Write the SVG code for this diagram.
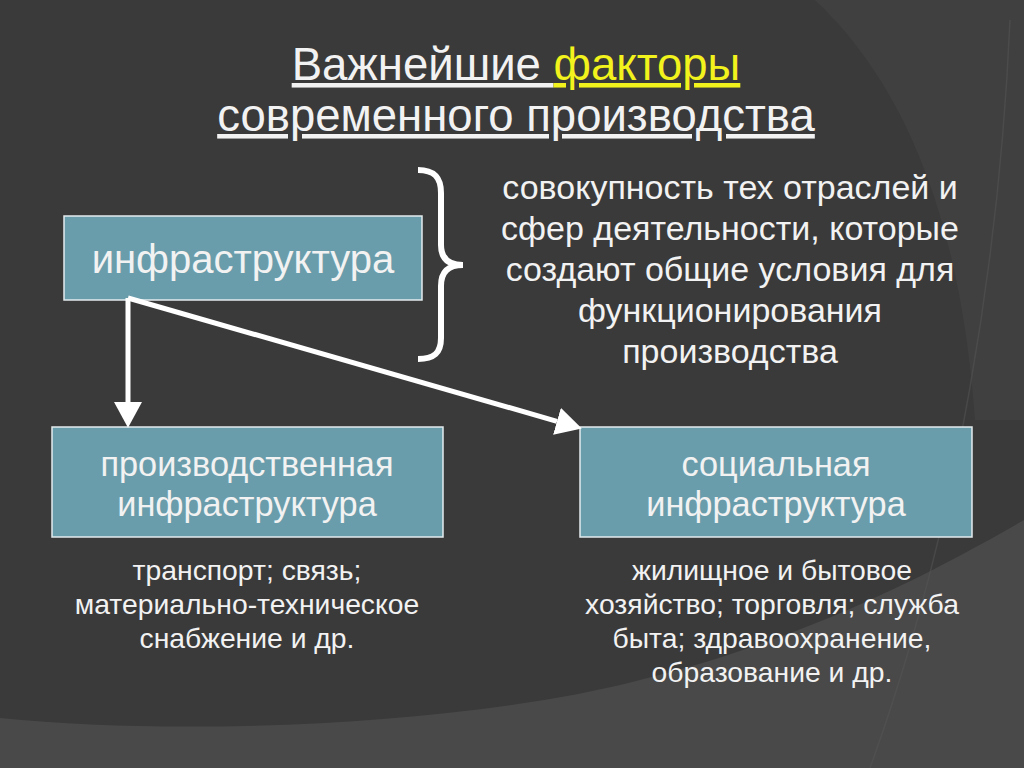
<svg xmlns="http://www.w3.org/2000/svg" width="1024" height="768" viewBox="0 0 1024 768">
<style>
text { font-family: "Liberation Sans", Arial, sans-serif; fill: #f2f2f2; text-anchor: middle; }
.title { font-size: 45.5px; }
.ul { text-decoration: underline; }
.yel { fill: #f2f21c; }
.desc { font-size: 34px; }
.boxt { font-size: 34.3px; }
.note { font-size: 28.3px; }
.box { fill: #6a9dab; stroke: #e4ecee; stroke-width: 1.5; }
.conn { stroke: #ffffff; stroke-width: 5; fill: none; }
</style>
<defs>
<marker id="head" markerUnits="userSpaceOnUse" markerWidth="26" markerHeight="28" viewBox="0 0 24 26" refX="0" refY="13" orient="auto">
<path d="M0,0 L24,13 L0,26 Z" fill="#ffffff"/>
</marker>
</defs>
<g id="background">
<rect x="0" y="0" width="1024" height="768" fill="#3a3a3a"/>
<path d="M815,0 C900,80 960,210 975,420 L1024,420 L1024,0 Z" fill="#404040"/>
<path d="M0,718 C200,738 480,722 640,680 C800,640 920,580 1024,520 L1024,768 L0,768 Z" fill="#494949"/>
<path d="M1010,20 C1000,250 960,520 870,768" fill="none" stroke="#555555" stroke-width="1.5" opacity="0.5"/>
</g>
<g id="title">
<text class="title" x="516" y="80"><tspan class="ul">Важнейшие </tspan><tspan class="ul yel">факторы</tspan></text>
<text class="title ul" x="516" y="131">современного производства</text>
</g>
<g id="node-infra">
<rect class="box" x="64" y="216" width="358" height="84"/>
<text class="boxt" x="243" y="273" style="font-size:40px">инфраструктура</text>
</g>
<g id="brace">
<path d="M418,170 C434,170 441,177 441,193 L441,245 C441,258 448,265 463,265 C448,265 441,272 441,286 L441,338 C441,353 434,359 418,359" fill="none" stroke="#ffffff" stroke-width="6"/>
</g>
<g id="definition">
<text class="desc" x="730" y="199">совокупность тех отраслей и</text>
<text class="desc" x="730" y="240">сфер деятельности, которые</text>
<text class="desc" x="730" y="281">создают общие условия для</text>
<text class="desc" x="730" y="322">функционирования</text>
<text class="desc" x="730" y="363">производства</text>
</g>
<g id="node-prod">
<rect class="box" x="52" y="427" width="391" height="110"/>
<text class="boxt" x="247" y="476">производственная</text>
<text class="boxt" x="247" y="516">инфраструктура</text>
</g>
<g id="node-social">
<rect class="box" x="580" y="427" width="392" height="110"/>
<text class="boxt" x="776" y="476">социальная</text>
<text class="boxt" x="776" y="516">инфраструктура</text>
</g>
<g id="note-prod">
<text class="note" x="247" y="580">транспорт; связь;</text>
<text class="note" x="247" y="614">материально-техническое</text>
<text class="note" x="247" y="648">снабжение и др.</text>
</g>
<g id="note-social">
<text class="note" x="772" y="580">жилищное и бытовое</text>
<text class="note" x="772" y="614">хозяйство; торговля; служба</text>
<text class="note" x="772" y="648">быта; здравоохранение,</text>
<text class="note" x="772" y="682">образование и др.</text>
</g>
<g id="connectors">
<line class="conn" x1="128" y1="298" x2="128" y2="402" marker-end="url(#head)"/>
<line class="conn" x1="128" y1="298" x2="557" y2="421.3" marker-end="url(#head)"/>
</g>
</svg>
